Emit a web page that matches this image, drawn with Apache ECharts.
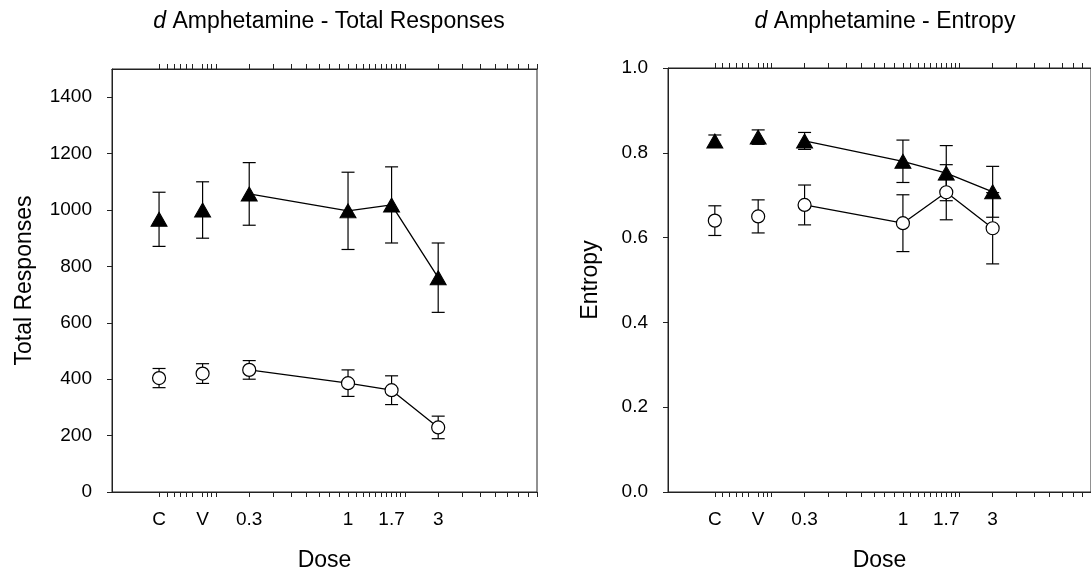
<!DOCTYPE html>
<html>
<head>
<meta charset="utf-8">
<script src="https://cdn.jsdelivr.net/npm/echarts@6/dist/echarts.min.js"></script>
<style>
html, body { margin: 0; padding: 0; background: #fff; }
#chart { width: 1091px; height: 577px; }
</style>
</head>
<body>
<div id="chart"></div>
<script>
// doses (C and V are placed on the log axis at 0.1 and 0.17)
var doseLabels = ['C', 'V', '0.3', '1', '1.7', '3'];
var doseX = [0.1, 0.17, 0.3, 1, 1.7, 3];

// total responses
var respTri = [967, 1000, 1057, 997, 1018, 760];
var respTriErr = [96, 100, 111, 137, 135, 123];
var respCirc = [404, 420, 433, 386, 361, 229];
var respCircErr = [34, 35, 33, 47, 51, 40];

// entropy
var entTri = [0.828, 0.837, 0.828, 0.780, 0.752, 0.708];
var entTriErr = [0.014, 0.017, 0.020, 0.050, 0.065, 0.060];
var entCirc = [0.640, 0.650, 0.677, 0.634, 0.707, 0.622];
var entCircErr = [0.035, 0.039, 0.047, 0.067, 0.065, 0.084];

// tick marks on the dose axis
var doseTicks = [0.1, 0.11, 0.12, 0.13, 0.14, 0.15, 0.17, 0.18, 0.19, 0.2,
  0.3, 0.4, 0.5, 0.6, 0.7, 0.8, 0.9,
  1, 1.1, 1.2, 1.3, 1.4, 1.5, 1.6, 1.7, 1.8, 1.9, 2,
  3, 4, 5, 6, 7, 8, 9, 10];
var respTicks = [0, 200, 400, 600, 800, 1000, 1200, 1400];
var entTicks = [0, 0.2, 0.4, 0.6, 0.8, 1.0];

var lg = function (v) { return Math.log10(v); };
var xMin = -1.249, xMax = 1;
var font = 'Liberation Sans';
var tickFont = 19, nameFont = 23;

var chart = echarts.init(document.getElementById('chart'), null, {renderer: 'canvas'});

function doseLabel(v) {
  for (var i = 0; i < doseX.length; i++) {
    if (Math.abs(lg(doseX[i]) - v) < 1e-6) return doseLabels[i];
  }
  return '';
}

function xAxes(grid) {
  return [{
    type: 'value', gridIndex: grid, min: xMin, max: xMax, position: 'bottom',
    name: 'Dose', nameLocation: 'middle', nameGap: 57,
    nameTextStyle: {fontSize: nameFont, color: '#000', fontFamily: font},
    splitLine: {show: false},
    axisLine: {onZero: false, lineStyle: {color: '#222', width: 1}},
    axisTick: {length: 5, lineStyle: {color: '#222'}, customValues: doseTicks.map(lg)},
    axisLabel: {customValues: doseX.map(lg), formatter: doseLabel, margin: 18,
      fontSize: tickFont, color: '#000', fontFamily: font}
  }, {
    type: 'value', gridIndex: grid, min: xMin, max: xMax, position: 'top',
    splitLine: {show: false},
    axisLine: {onZero: false, lineStyle: {color: '#222', width: 1}},
    axisTick: {length: 5, lineStyle: {color: '#222'}, customValues: doseTicks.map(lg)},
    axisLabel: {show: false}
  }];
}

function errSeries(xi, yi, vals, errs) {
  return {
    type: 'custom', xAxisIndex: xi, yAxisIndex: yi, z: 1,
    data: doseX.map(function (d, i) { return [lg(d), vals[i], errs[i]]; }),
    renderItem: function (params, api) {
      var x = api.value(0), y = api.value(1), e = api.value(2);
      var top = api.coord([x, y + e]);
      var bot = api.coord([x, y - e]);
      var w = 6.5;
      var st = {stroke: '#000', lineWidth: 1.2};
      return {type: 'group', children: [
        {type: 'line', shape: {x1: top[0], y1: top[1], x2: bot[0], y2: bot[1]}, style: st},
        {type: 'line', shape: {x1: top[0] - w, y1: top[1], x2: top[0] + w, y2: top[1]}, style: st},
        {type: 'line', shape: {x1: bot[0] - w, y1: bot[1], x2: bot[0] + w, y2: bot[1]}, style: st}
      ]};
    }
  };
}

function markSeries(xi, yi, vals, shape) {
  var pts = doseX.map(function (d, i) { return [lg(d), vals[i]]; });
  var sym = shape === 'tri'
    ? {symbol: 'triangle', symbolSize: [16, 14], itemStyle: {color: '#000', borderColor: '#000', borderWidth: 1, opacity: 1}}
    : {symbol: 'circle', symbolSize: 13, itemStyle: {color: '#fff', borderColor: '#000', borderWidth: 1.2, opacity: 1}};
  var ctrl = Object.assign({type: 'scatter', xAxisIndex: xi, yAxisIndex: yi, z: 3, data: pts.slice(0, 2)}, sym);
  var line = Object.assign({type: 'line', xAxisIndex: xi, yAxisIndex: yi, z: 3, data: pts.slice(2),
    showSymbol: true, lineStyle: {color: '#000', width: 1.3}}, sym);
  return [ctrl, line];
}

function yAxis(grid, name, gap, max, ticks, fmt) {
  return {
    type: 'value', gridIndex: grid, min: 0, max: max,
    name: name, nameLocation: 'middle', nameGap: gap,
    nameTextStyle: {fontSize: nameFont, color: '#000', fontFamily: font},
    splitLine: {show: false},
    axisLine: {show: true, onZero: false, lineStyle: {color: '#222'}},
    axisTick: {show: true, length: 5, lineStyle: {color: '#222'}, customValues: ticks},
    axisLabel: {customValues: ticks, margin: 20, fontSize: tickFont, color: '#000', fontFamily: font,
      formatter: fmt}
  };
}

var titleStyle = {fontSize: nameFont, fontWeight: 'normal', color: '#000', fontFamily: font,
  rich: {i: {fontStyle: 'italic', fontSize: nameFont, fontFamily: font}}};

var option = {
  animation: false,
  textStyle: {fontFamily: font},
  title: [
    {text: '{i|d} Amphetamine - Total Responses', left: 324, top: 5, textAlign: 'center', textStyle: titleStyle},
    {text: '{i|d} Amphetamine - Entropy', left: 880, top: 5, textAlign: 'center', textStyle: titleStyle}
  ],
  grid: [
    {left: 112, top: 69, width: 425, height: 423, show: true, borderColor: '#222', borderWidth: 1, backgroundColor: 'transparent'},
    {left: 668, top: 68, width: 425, height: 424, show: true, borderColor: '#222', borderWidth: 1, backgroundColor: 'transparent'}
  ],
  xAxis: xAxes(0).concat(xAxes(1)),
  yAxis: [
    yAxis(0, 'Total Responses', 76, 1500, respTicks, function (v) { return String(v); }),
    yAxis(1, 'Entropy', 66, 1, entTicks, function (v) { return v.toFixed(1); })
  ],
  series: [].concat(
    errSeries(0, 0, respTri, respTriErr),
    errSeries(0, 0, respCirc, respCircErr),
    markSeries(0, 0, respTri, 'tri'),
    markSeries(0, 0, respCirc, 'circ'),
    errSeries(2, 1, entTri, entTriErr),
    errSeries(2, 1, entCirc, entCircErr),
    markSeries(2, 1, entTri, 'tri'),
    markSeries(2, 1, entCirc, 'circ')
  )
};

chart.setOption(option);
</script>
</body>
</html>
